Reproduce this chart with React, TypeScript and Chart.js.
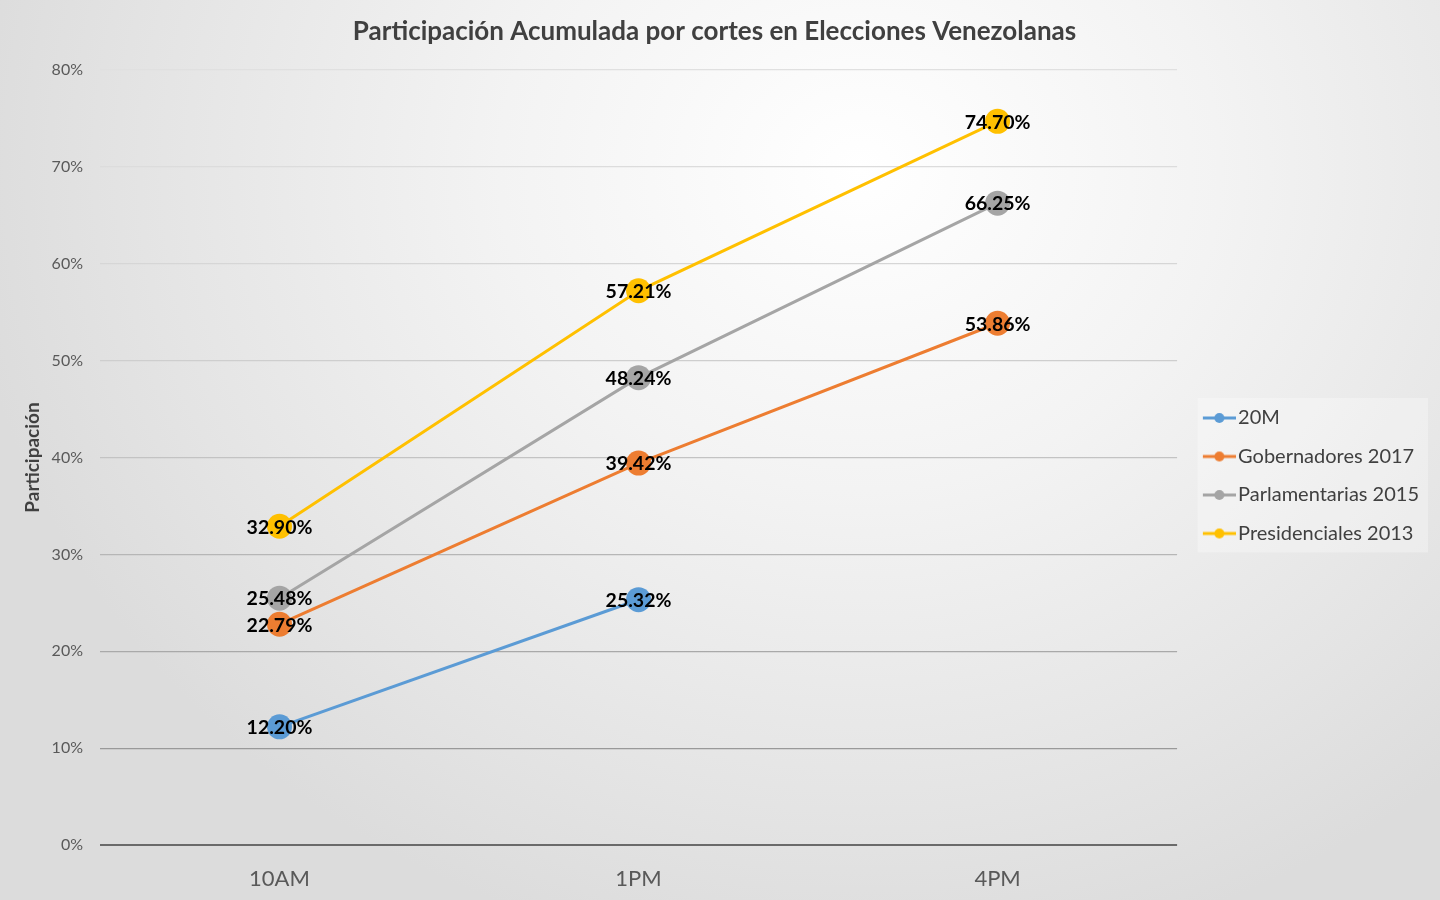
import { useEffect, useRef } from "react";
import { Chart, registerables } from "chart.js";

Chart.register(...registerables);

const CUTS = ["10AM", "1PM", "4PM"];
const SERIES_NAMES = [
  "20M",
  "Gobernadores 2017",
  "Parlamentarias 2015",
  "Presidenciales 2013",
];
const VALUES_20M = [12.2, 25.32, null];
const VALUES_GOB_2017 = [22.79, 39.42, 53.86];
const VALUES_PARL_2015 = [25.48, 48.24, 66.25];
const VALUES_PRES_2013 = [32.9, 57.21, 74.7];
const Y_TICKS = [0, 10, 20, 30, 40, 50, 60, 70, 80];

const COLORS = ["#5B9BD5", "#ED7D31", "#A5A5A5", "#FFC000"];
// gridlines get darker toward the bottom, like the original
const GRID_COLORS: Record<number, string> = {
  0: "#6a6a6a",
  10: "#999999",
  20: "#a9a9a9",
  30: "#b6b6b6",
  40: "#c3c3c3",
  50: "#cecece",
  60: "#d6d6d6",
  70: "#dcdcdc",
  80: "#e0e0e0",
};
const FONT = "Lato, 'Open Sans', sans-serif";
const TEXT_GREY = "#595959";

// legend marker: line with a dot. The image is wider than the box so the
// visible part sits a little right of the box start (image is drawn centred).
function makeMarker(color: string) {
  const c = document.createElement("canvas");
  c.width = 48;
  c.height = 12;
  const ctx = c.getContext("2d")!;
  ctx.strokeStyle = color;
  ctx.lineWidth = 3;
  ctx.beginPath();
  ctx.moveTo(15, 6);
  ctx.lineTo(48, 6);
  ctx.stroke();
  ctx.fillStyle = color;
  ctx.beginPath();
  ctx.arc(31.5, 6, 5, 0, Math.PI * 2);
  ctx.fill();
  return c;
}

const valueLabels = {
  id: "valueLabels",
  afterDatasetsDraw(chart: Chart) {
    const { ctx } = chart;
    ctx.save();
    ctx.font = `bold 19.5px ${FONT}`;
    ctx.fillStyle = "#000000";
    ctx.textAlign = "center";
    ctx.textBaseline = "middle";
    chart.data.datasets.forEach((ds, i) => {
      const meta = chart.getDatasetMeta(i);
      meta.data.forEach((pt, j) => {
        const v = ds.data[j] as number | null;
        if (v == null) return;
        ctx.fillText(`${v.toFixed(2)}%`, pt.x, pt.y + 1);
      });
    });
    ctx.restore();
  },
};

const legendBackground = {
  id: "legendBackground",
  beforeDraw(chart: any) {
    const boxes = chart.legend?.legendHitBoxes;
    if (!boxes || !boxes.length) return;
    const left = Math.min(...boxes.map((b: any) => b.left)) + 2;
    const top = Math.min(...boxes.map((b: any) => b.top)) - 10;
    const right = Math.max(...boxes.map((b: any) => b.left + b.width)) + 9;
    const bottom = Math.max(...boxes.map((b: any) => b.top + b.height)) + 9;
    const { ctx } = chart;
    ctx.save();
    ctx.fillStyle = "rgba(255,255,255,0.3)";
    ctx.fillRect(left, top, right - left, bottom - top);
    ctx.restore();
  },
};

export default function App() {
  const canvasRef = useRef<HTMLCanvasElement>(null);

  useEffect(() => {
    if (!canvasRef.current) return;
    Chart.defaults.font.family = FONT;
    const seriesData = [VALUES_20M, VALUES_GOB_2017, VALUES_PARL_2015, VALUES_PRES_2013];
    const markers = COLORS.map(makeMarker);

    const chart = new Chart(canvasRef.current, {
      type: "line",
      data: {
        labels: CUTS,
        datasets: SERIES_NAMES.map((name, i) => ({
          label: name,
          data: seriesData[i],
          borderColor: COLORS[i],
          backgroundColor: COLORS[i],
          borderWidth: 3,
          pointRadius: 12.5,
          pointBorderWidth: 0,
          pointStyle: "circle",
          tension: 0,
        })),
      },
      options: {
        responsive: true,
        maintainAspectRatio: false,
        animation: false,
        layout: { padding: { left: 0, right: 11, top: 0, bottom: 0 } },
        plugins: {
          title: {
            display: true,
            text: "Participación Acumulada por cortes en Elecciones Venezolanas",
            color: "#404040",
            font: { size: 26, weight: "bold" },
            padding: { top: 16, bottom: 22.8 },
          },
          legend: {
            position: "right",
            title: {
              display: true,
              text: " ",
              font: { size: 12 },
              padding: { top: 37, bottom: 0 },
            },
            labels: {
              usePointStyle: true,
              pointStyleWidth: 32.5,
              padding: 18.5,
              color: "#404040",
              font: { size: 20 },
              generateLabels(chart) {
                return chart.data.datasets.map((ds, i) => ({
                  text: ds.label as string,
                  datasetIndex: i,
                  pointStyle: markers[i],
                  fillStyle: COLORS[i],
                  strokeStyle: COLORS[i],
                  lineWidth: 0,
                  fontColor: "#404040",
                  hidden: false,
                }));
              },
            },
          },
          tooltip: { enabled: false },
        },
        scales: {
          x: {
            offset: true,
            grid: { display: false },
            border: { display: false },
            ticks: {
              color: TEXT_GREY,
              font: { size: 22 },
              padding: 13,
            },
            afterFit(scale) {
              scale.height = 55;
            },
          },
          y: {
            min: 0,
            max: 80,
            afterBuildTicks(scale) {
              scale.ticks = Y_TICKS.map((v) => ({ value: v }));
            },
            grid: {
              drawTicks: false,
              color: (ctx) => GRID_COLORS[ctx.tick?.value as number] ?? "#cccccc",
              lineWidth: (ctx) => (ctx.tick?.value === 0 ? 2 : 1.2),
            },
            border: { display: false },
            ticks: {
              color: TEXT_GREY,
              font: { size: 16 },
              padding: 17,
              callback: (v) => `${v}%`,
            },
            title: {
              display: true,
              text: "Participación",
              color: "#404040",
              font: { size: 19, weight: "bold" },
              padding: { top: 21, bottom: 0 },
            },
            afterFit(scale) {
              scale.width = 100;
            },
          },
        },
      },
      plugins: [valueLabels, legendBackground],
    });

    return () => chart.destroy();
  }, []);

  return (
    <div
      style={{
        position: "fixed",
        left: 0,
        top: 0,
        width: 1440,
        height: 900,
        background:
          "radial-gradient(ellipse 900px 800px at 860px 170px, #ffffff 0%, #f3f3f3 40%, #e4e4e4 80%, #dcdcdc 100%)",
      }}
    >
      <canvas ref={canvasRef} />
    </div>
  );
}
